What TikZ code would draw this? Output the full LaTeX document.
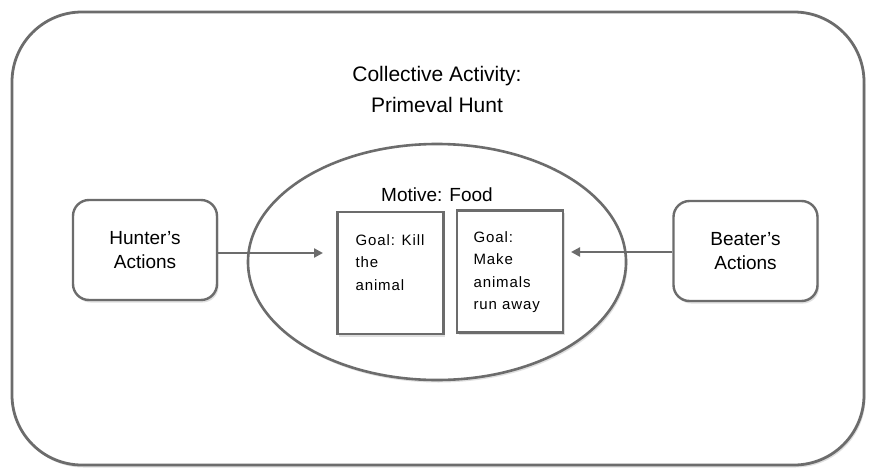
\documentclass[tikz,border=0pt]{standalone}
\usepackage{fontspec}
\setmainfont{Liberation Sans}
\newfontfamily\goalfont[LetterSpace=6]{Liberation Sans}
\usetikzlibrary{arrows.meta,shadows,shapes.geometric}
\definecolor{edge}{HTML}{6C6C6C}
\tikzset{
  shade/.style={drop shadow={opacity=0.25,shadow xshift=1.5pt,shadow yshift=-2.5pt}},
  outerbox/.style={draw=edge,line width=2.8pt,rounded corners=70pt,fill=white,shade},
  actbox/.style={draw=edge,line width=2.4pt,rounded corners=16pt,fill=white,shade,minimum width=144pt,minimum height=100pt,align=center,font=\fontsize{19}{24}\selectfont},
  goalbox/.style={draw=edge,line width=2.2pt,fill=white,shade,minimum width=106pt,minimum height=122pt},
  goaltext/.style={align=left,anchor=north west,font=\goalfont\fontsize{15}{22.5}\selectfont},
  conn/.style={draw=edge,line width=2.6pt,-{Triangle[length=9pt,width=9pt]}},
}
\begin{document}
\begin{tikzpicture}[x=1pt,y=-1pt]
\useasboundingbox (0,0) rectangle (877,471);
\draw[outerbox] (12,12) rectangle (864,465);
\node[font=\fontsize{21}{31}\selectfont,align=center] (title) at (437,89) {Collective Activity:\\Primeval Hunt};
\node[draw=edge,line width=2.6pt,ellipse,minimum width=378pt,minimum height=236pt,fill=white,shade] (ell) at (437,262) {};
\node[font=\fontsize{19}{24}\selectfont] (motive) at (437,195) {Motive: Food};
\node[goalbox] (g1) at (390.5,273) {};
\node[goalbox] (g2) at (510,271.5) {};
\node[goaltext] (t1) at (352,231) {Goal: Kill\\the\\animal};
\node[goaltext] (t2) at (470,228) {Goal:\\Make\\animals\\run away};
\node[actbox] (hunter) at (145,250) {Hunter’s\\Actions};
\node[actbox] (beater) at (745.5,251) {Beater’s\\Actions};
\coordinate (ha) at (323,253);
\coordinate (ba) at (571,252);
\draw[conn] (hunter.east |- ha) -- (ha);
\draw[conn] (beater.west |- ba) -- (ba);
\end{tikzpicture}
\end{document}
